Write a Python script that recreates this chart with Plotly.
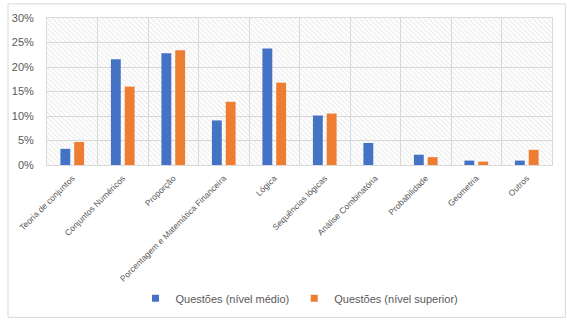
import plotly.graph_objects as go

categories = ["Teoria de conjuntos", "Conjuntos Numéricos", "Proporção",
              "Porcentagem e Matemática Financeira", "Lógica", "Sequências lógicas",
              "Análise Combinatória", "Probabilidade", "Geometria", "Outros"]
medio = [0.033, 0.216, 0.228, 0.091, 0.238, 0.101, 0.045, 0.021, 0.009, 0.009]
superior = [0.047, 0.160, 0.234, 0.129, 0.168, 0.105, 0.0, 0.016, 0.007, 0.031]
y_ticks = [0, 0.05, 0.10, 0.15, 0.20, 0.25, 0.30]
series_names = ["Questões (nível médio)", "Questões (nível superior)"]
series_colors = ["#4472C4", "#ED7D31"]

W, H = 567, 324
ml, mr, mt, mb = 40, 15, 15, 158
pw, ph = W - ml - mr, H - mt - mb
y_max = y_ticks[-1]

grey_txt = "#595959"
grid = "#d9d9d9"
font_family = "Liberation Sans, Arial, sans-serif"

fig = go.Figure()

# hatched plot-area background (decoration)
fig.add_trace(go.Bar(
    x=categories, y=[y_max] * len(categories), width=1, offset=-0.5,
    marker=dict(color="rgba(0,0,0,0)", line=dict(width=0),
                pattern=dict(shape="\\", fgcolor="#d2d2d2", bgcolor="rgba(0,0,0,0)",
                             size=3.5, solidity=0.3)),
    showlegend=False, hoverinfo="skip"))

bw = 10 / (pw / len(categories))
gap = 4 / (pw / len(categories))
for vals, name, col, off in [(medio, series_names[0], series_colors[0], -(bw + gap / 2)),
                             (superior, series_names[1], series_colors[1], gap / 2)]:
    fig.add_trace(go.Bar(
        x=categories, y=vals, name=name,
        marker=dict(color=col, line=dict(width=0)),
        width=bw, offset=off, showlegend=False))
    # legend entry with small square marker
    fig.add_trace(go.Scatter(
        x=[None], y=[None], mode="markers", name=name,
        marker=dict(symbol="square", size=7, color=col), showlegend=True))

fig.update_layout(
    width=W, height=H,
    margin=dict(l=ml, r=mr, t=mt, b=mb),
    barmode="overlay",
    paper_bgcolor="white", plot_bgcolor="white",
    font=dict(family=font_family, color=grey_txt),
    legend=dict(orientation="h", x=0.5, xanchor="center",
                y=-(303 - mt - ph) / ph, yanchor="middle",
                font=dict(size=11, color=grey_txt), itemwidth=30,
                traceorder="normal"),
    xaxis=dict(type="category", tickangle=-45, tickson="boundaries",
               showgrid=True, gridcolor=grid, gridwidth=1,
               showline=True, linecolor=grid, mirror=True, ticks="",
               ticklabelstandoff=4,
               tickfont=dict(size=8.5, color=grey_txt), range=[-0.5, len(categories) - 0.5],
               fixedrange=True),
    yaxis=dict(range=[0, y_max], tickvals=y_ticks, tickformat=".0%",
               showgrid=True, gridcolor=grid, gridwidth=1,
               showline=True, linecolor=grid, mirror=True, ticks="",
               ticklabelstandoff=10,
               tickfont=dict(size=11, color=grey_txt), zeroline=False,
               fixedrange=True),
)

# outer chart border
fig.add_shape(type="rect", xref="paper", yref="paper",
              x0=-(ml - 0.5) / pw, x1=1 + (mr - 1.5) / pw,
              y0=-(mb - 1.5) / ph, y1=1 + (mt - 0.5) / ph,
              line=dict(color=grid, width=1), fillcolor="rgba(0,0,0,0)", layer="below")

fig.write_html("out.html")
